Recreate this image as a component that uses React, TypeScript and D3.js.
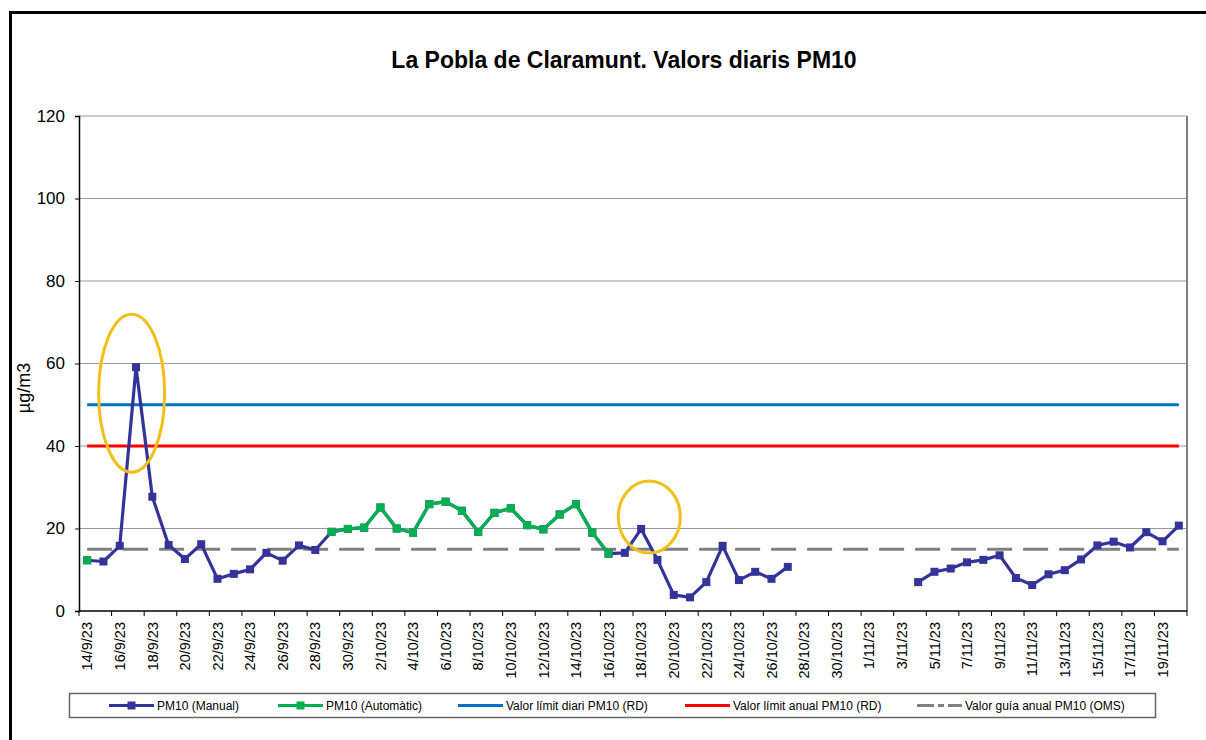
import React, { useEffect, useRef } from 'react'
import * as d3 from 'd3'

const dates = [
  '14/9/23', '15/9/23', '16/9/23', '17/9/23', '18/9/23', '19/9/23', '20/9/23', '21/9/23', '22/9/23', '23/9/23',
  '24/9/23', '25/9/23', '26/9/23', '27/9/23', '28/9/23', '29/9/23', '30/9/23',
  '1/10/23', '2/10/23', '3/10/23', '4/10/23', '5/10/23', '6/10/23', '7/10/23', '8/10/23', '9/10/23', '10/10/23',
  '11/10/23', '12/10/23', '13/10/23', '14/10/23', '15/10/23', '16/10/23', '17/10/23', '18/10/23', '19/10/23',
  '20/10/23', '21/10/23', '22/10/23', '23/10/23', '24/10/23', '25/10/23', '26/10/23', '27/10/23', '28/10/23',
  '29/10/23', '30/10/23', '31/10/23',
  '1/11/23', '2/11/23', '3/11/23', '4/11/23', '5/11/23', '6/11/23', '7/11/23', '8/11/23', '9/11/23', '10/11/23',
  '11/11/23', '12/11/23', '13/11/23', '14/11/23', '15/11/23', '16/11/23', '17/11/23', '18/11/23', '19/11/23',
  '20/11/23',
]

// PM10 (Manual), µg/m3
const manual: (number | null)[] = [
  12.3, 12.0, 15.8, 59.1, 27.7, 16.0, 12.6, 16.2, 7.8, 9.0,
  10.1, 14.1, 12.2, 15.9, 14.8, 19.2, 19.9,
  20.2, 25.1, 20.0, 19.0, 25.9, 26.5, 24.3, 19.2, 23.8, 24.9,
  20.8, 19.8, 23.4, 25.9, 19.0, 13.9, 14.1, 19.9, 12.4,
  3.9, 3.3, 7.0, 15.8, 7.5, 9.5, 7.8, 10.7, null,
  null, null, null,
  null, null, null, 7.0, 9.5, 10.3, 11.8, 12.4, 13.5, 8.0,
  6.3, 8.9, 9.9, 12.5, 15.9, 16.8, 15.4, 19.1, 16.9,
  20.7,
]

// PM10 (Automàtic), µg/m3
const automatic: (number | null)[] = [
  12.3, null, null, null, null, null, null, null, null, null,
  null, null, null, null, null, 19.2, 19.9,
  20.2, 25.1, 20.0, 19.0, 25.9, 26.5, 24.3, 19.2, 23.8, 24.9,
  20.8, 19.8, 23.4, 25.9, 19.0, 13.9, null, null, null,
  null, null, null, null, null, null, null, null, null,
  null, null, null,
  null, null, null, null, null, null, null, null, null, null,
  null, null, null, null, null, null, null, null, null,
  null,
]

const limitDaily = 50
const limitAnnual = 40
const guideWho = 15

const yTicks = [0, 20, 40, 60, 80, 100, 120]

const legendLabels = [
  'PM10 (Manual)',
  'PM10 (Automàtic)',
  'Valor límit diari PM10 (RD)',
  'Valor límit anual PM10 (RD)',
  'Valor guía anual PM10 (OMS)',
]

// highlighted episodes (yellow ellipses)
const highlights = [
  { date: '17/9/23', value: 52.8, shift: -0.27, rx: 33, ry: 79 },
  { date: '18/10/23', value: 22.8, shift: 0.5, rx: 31, ry: 36 },
]

const FONT = '"Liberation Sans", Arial, sans-serif'
const BLUE = '#333399'
const GREEN = '#00B050'
const LIMIT_BLUE = '#0070C0'
const LIMIT_RED = '#FF0000'
const GREY = '#808080'

const App = () => {
  const ref = useRef<SVGSVGElement>(null)
  const width = 1206
  const height = 740
  const plot = { left: 79, right: 1187, top: 116, bottom: 611 }

  useEffect(() => {
    const svg = d3.select(ref.current)
    svg.selectAll('*').remove()

    const x = d3.scaleBand<string>().domain(dates).range([plot.left, plot.right])
    const y = d3.scaleLinear().domain([0, 120]).range([plot.bottom, plot.top])
    const cx = (d: string) => (x(d) as number) + x.bandwidth() / 2

    // outer frame
    svg.append('rect')
      .attr('x', 10.5).attr('y', 12.5)
      .attr('width', 1400).attr('height', 900)
      .attr('fill', 'white').attr('stroke', 'black').attr('stroke-width', 3)

    svg.append('text')
      .attr('x', 624).attr('y', 68)
      .attr('text-anchor', 'middle')
      .style('font', `bold 23px ${FONT}`)
      .text('La Pobla de Claramunt. Valors diaris PM10')

    // grid
    svg.append('g').selectAll('line')
      .data(yTicks.filter(t => t > 0))
      .join('line')
      .attr('x1', plot.left).attr('x2', plot.right)
      .attr('y1', d => y(d)).attr('y2', d => y(d))
      .attr('stroke', '#999').attr('stroke-width', 1)

    svg.append('line')
      .attr('x1', plot.right).attr('x2', plot.right)
      .attr('y1', plot.top).attr('y2', plot.bottom)
      .attr('stroke', GREY).attr('stroke-width', 2)

    // y axis
    const yAxis = svg.append('g')
      .attr('transform', `translate(${plot.left},0)`)
      .call(d3.axisLeft(y).tickValues(yTicks).tickSize(4).tickPadding(10))
    yAxis.select('.domain').attr('stroke', 'black').attr('stroke-width', 1.5)
    yAxis.selectAll('.tick line').attr('stroke', 'black')
    yAxis.selectAll('.tick text').style('font', `17px ${FONT}`).attr('fill', 'black')

    svg.append('text')
      .attr('transform', 'translate(30,388) rotate(-90)')
      .attr('text-anchor', 'middle')
      .style('font', `18px ${FONT}`)
      .text('µg/m3')

    // x axis
    const tickDates = dates.filter((_, i) => i % 2 === 0)
    const xg = svg.append('g')
    xg.append('line')
      .attr('x1', plot.left).attr('x2', plot.right)
      .attr('y1', plot.bottom).attr('y2', plot.bottom)
      .attr('stroke', 'black').attr('stroke-width', 1.5)
    xg.selectAll('line.tk')
      .data([...tickDates.map(d => x(d) as number), plot.right])
      .join('line')
      .attr('class', 'tk')
      .attr('x1', d => d).attr('x2', d => d)
      .attr('y1', plot.bottom).attr('y2', plot.bottom + 5)
      .attr('stroke', 'black')
    xg.selectAll('text')
      .data(tickDates)
      .join('text')
      .attr('transform', d => `translate(${cx(d)},${plot.bottom + 11}) rotate(-90)`)
      .attr('text-anchor', 'end')
      .attr('dy', '0.36em')
      .style('font', `14.5px ${FONT}`)
      .text(d => d)

    // reference lines, drawn as series across the categories
    const refLine = (v: number, color: string, dash?: string) => {
      svg.append('line')
        .attr('x1', cx(dates[0])).attr('x2', cx(dates[dates.length - 1]))
        .attr('y1', y(v)).attr('y2', y(v))
        .attr('stroke', color).attr('stroke-width', 3)
        .attr('stroke-dasharray', dash || null)
    }
    refLine(limitDaily, LIMIT_BLUE)
    refLine(limitAnnual, LIMIT_RED)
    refLine(guideWho, GREY, '25,11')

    const line = d3.line<number | null>()
      .defined(d => d != null)
      .x((_, i) => cx(dates[i]))
      .y(d => y(d as number))

    const drawSeries = (vals: (number | null)[], color: string) => {
      svg.append('path')
        .datum(vals)
        .attr('d', line)
        .attr('fill', 'none')
        .attr('stroke', color)
        .attr('stroke-width', 3.2)
        .attr('stroke-linejoin', 'round')
      svg.append('g').selectAll('rect')
        .data(vals.map((v, i) => ({ v, d: dates[i] })).filter(p => p.v != null))
        .join('rect')
        .attr('x', p => cx(p.d) - 4).attr('y', p => y(p.v as number) - 4)
        .attr('width', 8).attr('height', 8)
        .attr('fill', color)
    }
    drawSeries(manual, BLUE)
    drawSeries(automatic, GREEN)

    svg.append('g').selectAll('ellipse')
      .data(highlights)
      .join('ellipse')
      .attr('cx', h => cx(h.date) + h.shift * x.bandwidth())
      .attr('cy', h => y(h.value))
      .attr('rx', h => h.rx).attr('ry', h => h.ry)
      .attr('fill', 'none')
      .attr('stroke', '#F2BE1A')
      .attr('stroke-width', 3)

    // legend
    const lg = svg.append('g')
    lg.append('rect')
      .attr('x', 69.5).attr('y', 693.5)
      .attr('width', 1086).attr('height', 24)
      .attr('fill', 'white').attr('stroke', '#666').attr('stroke-width', 1.5)
    const ly = 705.5
    const sample = 45
    const itemX = [109, 278, 458, 685, 917]
    const styles = [
      { color: BLUE, marker: true, dash: null },
      { color: GREEN, marker: true, dash: null },
      { color: LIMIT_BLUE, marker: false, dash: null },
      { color: LIMIT_RED, marker: false, dash: null },
      { color: GREY, marker: false, dash: '17,4,6,4' },
    ]
    const items = lg.selectAll('g.item')
      .data(legendLabels)
      .join('g')
      .attr('class', 'item')
    items.each(function (label, i) {
      const g = d3.select(this as SVGGElement)
      const s = styles[i]
      const pos = itemX[i]
      g.append('line')
        .attr('x1', pos).attr('x2', pos + sample)
        .attr('y1', ly).attr('y2', ly)
        .attr('stroke', s.color).attr('stroke-width', 3)
        .attr('stroke-dasharray', s.dash)
      if (s.marker) {
        g.append('rect')
          .attr('x', pos + sample / 2 - 4).attr('y', ly - 4)
          .attr('width', 8).attr('height', 8).attr('fill', s.color)
      }
      g.append('text')
        .attr('x', pos + sample + 3)
        .attr('y', ly).attr('dy', '0.36em')
        .style('font', `12px ${FONT}`)
        .text(label)
    })
  }, [])

  return (
    <svg
      ref={ref}
      width={width}
      height={height}
      style={{ position: 'absolute', left: 0, top: 0, background: 'white' }}
    />
  )
}

export default App
